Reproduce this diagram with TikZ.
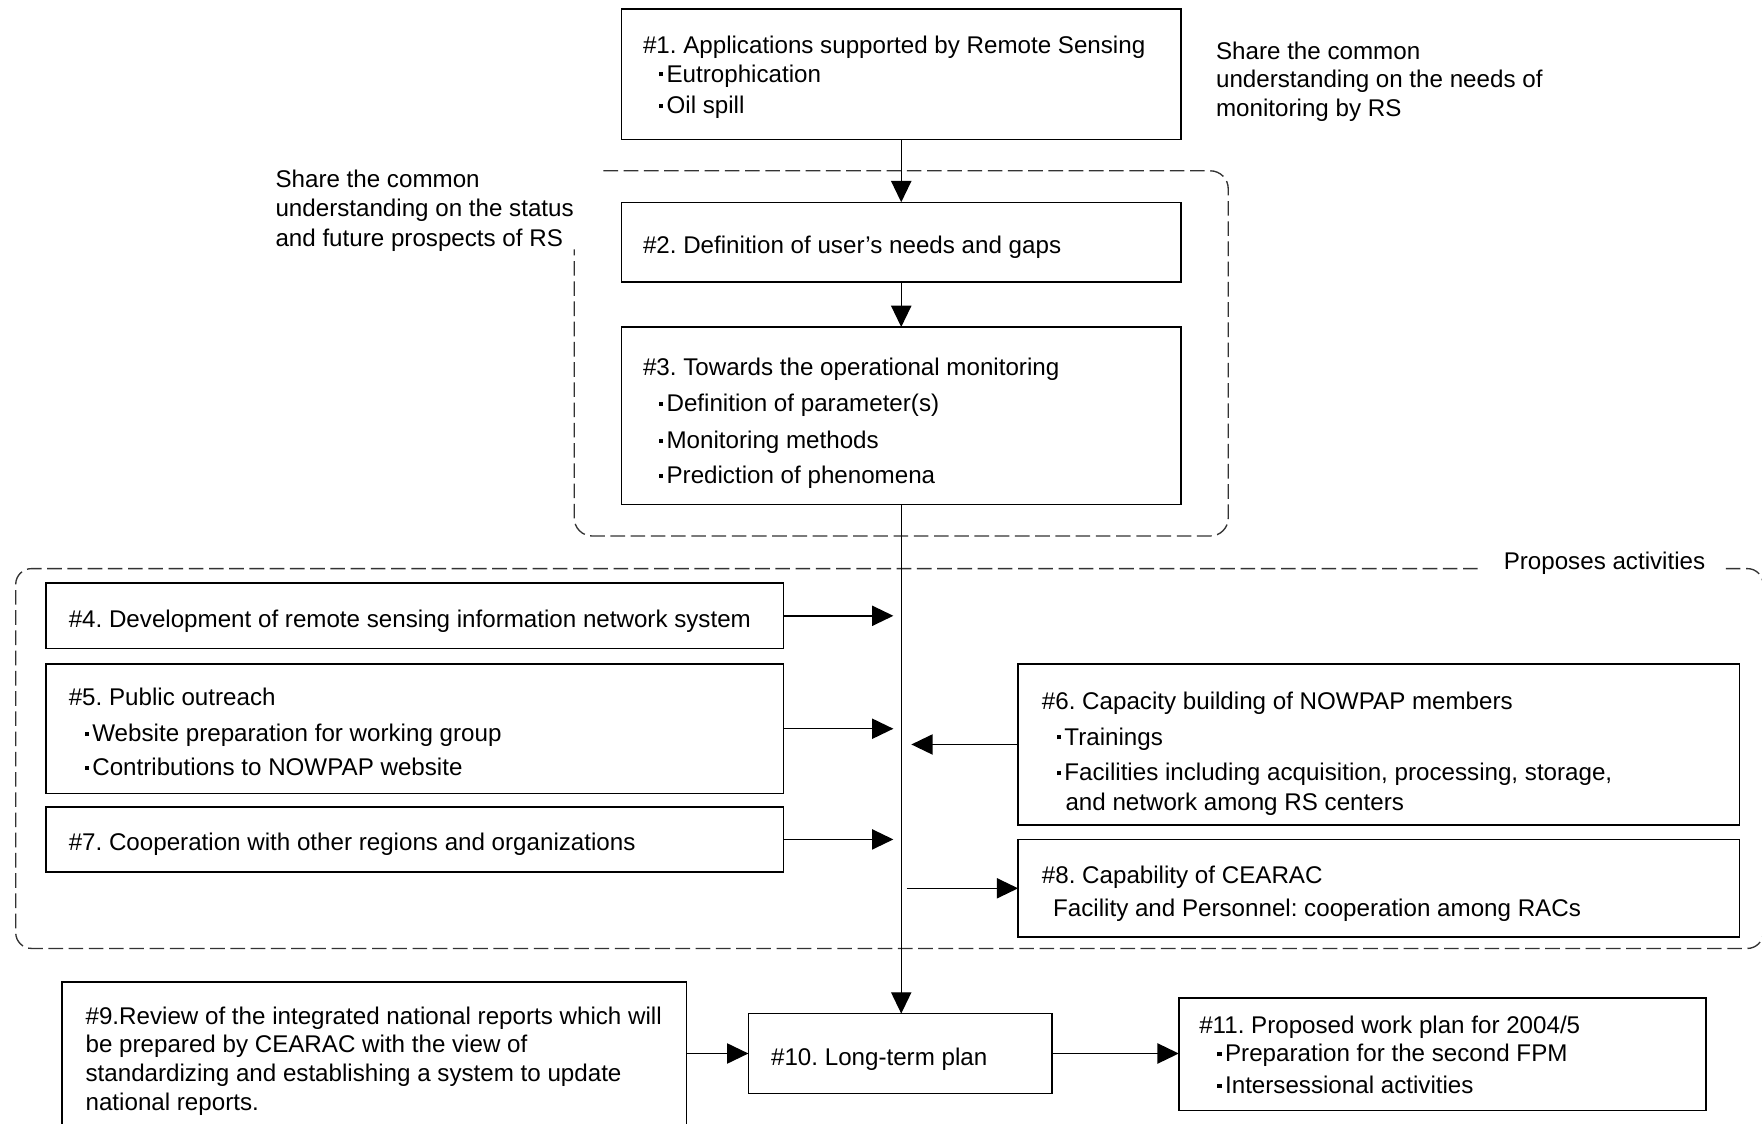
\documentclass[tikz,border=0pt]{standalone}
\usepackage{fontspec}
\setmainfont{Liberation Sans}
\usetikzlibrary{arrows.meta,fit}
\frenchspacing
\newcommand{\bul}{\makebox[10pt][c]{\rule[5pt]{3.6pt}{3.6pt}}}
\begin{document}
\begin{tikzpicture}[x=1pt,y=-1pt,
  box/.style={draw, line width=1.3pt, inner sep=0pt, outer sep=0pt},
  txt/.style={anchor=base west, inner sep=0pt, font=\fontsize{21.5}{26}\selectfont},
  arr/.style={line width=1.3pt, -{Triangle[length=19pt,width=18pt]}},
  region/.style={draw=black!80, line width=1.2pt, dash pattern=on 13pt off 5pt, rounded corners=16pt}]

\useasboundingbox (0,0) rectangle (1568,1000);

% boxes
\node[box, fit={(553,8) (1051,124)}] (b1) {};
\node[box, fit={(553,180) (1051,251)}] (b2) {};
\node[box, fit={(553,291) (1051,449)}] (b3) {};
\node[box, fit={(41,519) (697,577)}] (b4) {};
\node[box, fit={(41,591) (697,706)}] (b5) {};
\node[box, fit={(41,718) (697,776)}] (b7) {};
\node[box, fit={(906,591) (1548,734)}] (b6) {};
\node[box, fit={(906,747) (1548,834)}] (b8) {};
\node[box, fit={(55,874) (611,1010)}] (b9) {};
\node[box, fit={(666,902) (936,973)}] (b10) {};
\node[box, fit={(1049,888) (1518,988)}] (b11) {};

% dashed groupings
\draw[region] (537,152) -- (1093,152) -- (1093,477) -- (511,477) -- (511,222);
\draw[region, rounded corners=14pt] (1315,506) -- (14,506) -- (14,844) -- (1569,844) -- (1569,506) -- (1535,506);

% texts
\node[txt] (t1a) at (572,48) {\#1. Applications supported by Remote Sensing};
\node[txt] (t1b) at (583,73) {\bul Eutrophication};
\node[txt] (t1c) at (583,101) {\bul Oil spill};

\node[txt] (n1a) at (1082,53) {Share the common};
\node[txt] (n1b) at (1082,78) {understanding on the needs of};
\node[txt] (n1c) at (1082,104) {monitoring by RS};

\node[txt] (r1a) at (245,167) {Share the common};
\node[txt] (r1b) at (245,193) {understanding on the status};
\node[txt] (r1c) at (245,219) {and future prospects of RS};

\node[txt] (t2) at (572,226) {\#2. Definition of user’s needs and gaps};

\node[txt] (t3a) at (572,334) {\#3. Towards the operational monitoring};
\node[txt] (t3b) at (583,366) {\bul Definition of parameter(s)};
\node[txt] (t3c) at (583,399) {\bul Monitoring methods};
\node[txt] (t3d) at (583,430) {\bul Prediction of phenomena};

\node[txt] (r2) at (1338,507) {Proposes activities};

\node[txt] (t4) at (61,558) {\#4. Development of remote sensing information network system};

\node[txt] (t5a) at (61,628) {\#5. Public outreach};
\node[txt] (t5b) at (72,660) {\bul Website preparation for working group};
\node[txt] (t5c) at (72,690) {\bul Contributions to NOWPAP website};

\node[txt] (t7) at (61,757) {\#7. Cooperation with other regions and organizations};

\node[txt] (t6a) at (927,631) {\#6. Capacity building of NOWPAP members};
\node[txt] (t6b) at (937,663) {\bul Trainings};
\node[txt] (t6c) at (937,695) {\bul Facilities including acquisition, processing, storage,};
\node[txt] (t6d) at (948,721) {and network among RS centers};

\node[txt] (t8a) at (927,786) {\#8. Capability of CEARAC};
\node[txt] (t8b) at (937,816) {Facility and Personnel: cooperation among RACs};

\node[txt] (t9a) at (76,912) {\#9.Review of the integrated national reports which will};
\node[txt] (t9b) at (76,937) {be prepared by CEARAC with the view of};
\node[txt] (t9c) at (76,962) {standardizing and establishing a system to update};
\node[txt] (t9d) at (76,988) {national reports.};

\node[txt] (t10) at (686,948) {\#10. Long-term plan};

\node[txt] (t11a) at (1067,920) {\#11. Proposed work plan for 2004/5};
\node[txt] (t11b) at (1080,945) {\bul Preparation for the second FPM};
\node[txt] (t11c) at (1080,973) {\bul Intersessional activities};

% connectors
\draw[arr] (b1.south) -- (b2.north);
\draw[arr] (b2.south) -- (b3.north);
\draw[arr] (b3.south) -- (b3.south |- b10.north);
\draw[arr, shorten >=7pt] (b4.east) -- (b4.east -| b3.south);
\draw[arr, shorten >=7pt] (b5.east) -- (b5.east -| b3.south);
\draw[arr, shorten >=7pt] (b7.east) -- (b7.east -| b3.south);
\draw[arr, shorten >=9pt] (b6.west) -- (b6.west -| b3.south);
\draw[arr, shorten <=5pt] (b8.west -| b3.south) -- (b8.west);
\draw[arr] (b10.west -| b9.east) -- (b10.west);
\draw[arr] (b10.east) -- (b10.east -| b11.west);
\end{tikzpicture}
\end{document}
